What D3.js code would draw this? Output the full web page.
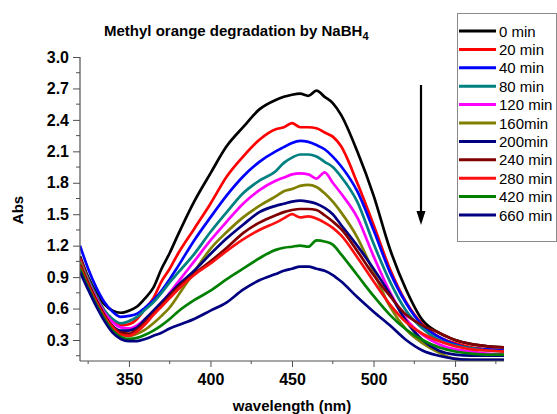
<!DOCTYPE html>
<html>
<head>
<meta charset="utf-8">
<script src="https://cdn.jsdelivr.net/npm/d3@7"></script>
<style>
  html, body { margin: 0; padding: 0; background: #fff; }
  svg { display: block; font-family: Arial, "Liberation Sans", sans-serif; }
</style>
</head>
<body>
<svg id="chart" width="557" height="414"></svg>
<script>
// Wavelength grid (nm)
const wavelengths = [320,325,330,335,340,345,350,355,360,365,370,375,380,390,400,410,420,430,440,445,450,455,460,465,470,475,480,490,500,510,520,530,540,550,560,570,580];

// Series labels and colours
const labels = ["0 min","20 min","40 min","80 min","120 min","160min","200min","240 min","280 min","420 min","660 min"];
const colors = ["#000000","#ff0000","#0000ff","#008080","#ff00ff","#808000","#000080","#800000","#ff1010","#008000","#000080"];

// Absorbance spectra, one array per reaction time
const abs0   = [1.10,0.90,0.75,0.64,0.58,0.56,0.58,0.62,0.70,0.80,0.98,1.13,1.30,1.62,1.89,2.15,2.33,2.50,2.59,2.62,2.64,2.65,2.63,2.68,2.62,2.56,2.45,2.10,1.68,1.17,0.78,0.49,0.37,0.30,0.26,0.24,0.23];
const abs20  = [1.08,0.88,0.72,0.58,0.49,0.44,0.45,0.50,0.60,0.70,0.86,0.98,1.12,1.36,1.60,1.86,2.05,2.21,2.31,2.33,2.37,2.33,2.33,2.32,2.28,2.24,2.15,1.80,1.40,0.98,0.66,0.45,0.33,0.27,0.23,0.21,0.20];
const abs40  = [1.20,0.98,0.80,0.66,0.57,0.52,0.53,0.55,0.61,0.68,0.77,0.88,1.00,1.25,1.47,1.68,1.86,2.00,2.10,2.14,2.18,2.20,2.19,2.16,2.12,2.05,1.96,1.72,1.35,0.95,0.65,0.44,0.33,0.26,0.22,0.21,0.20];
const abs80  = [1.05,0.88,0.72,0.58,0.50,0.46,0.48,0.52,0.59,0.66,0.75,0.85,0.94,1.12,1.33,1.52,1.70,1.82,1.91,1.99,2.04,2.07,2.07,2.05,2.00,1.95,1.86,1.62,1.22,0.86,0.58,0.41,0.30,0.25,0.22,0.20,0.19];
const abs120 = [1.05,0.86,0.70,0.56,0.47,0.42,0.41,0.44,0.50,0.57,0.65,0.75,0.85,1.05,1.25,1.43,1.60,1.73,1.82,1.85,1.88,1.89,1.88,1.84,1.90,1.80,1.70,1.47,1.10,0.76,0.50,0.35,0.26,0.21,0.19,0.17,0.16];
const abs160 = [1.05,0.85,0.68,0.52,0.42,0.36,0.34,0.36,0.40,0.46,0.53,0.61,0.72,0.95,1.17,1.33,1.47,1.58,1.67,1.72,1.74,1.77,1.78,1.76,1.70,1.62,1.52,1.28,0.95,0.62,0.40,0.27,0.18,0.12,0.11,0.11,0.11];
const abs200 = [1.00,0.82,0.66,0.52,0.43,0.39,0.39,0.42,0.50,0.58,0.66,0.74,0.82,0.96,1.12,1.27,1.40,1.52,1.58,1.60,1.62,1.63,1.62,1.60,1.56,1.50,1.40,1.20,0.98,0.74,0.48,0.30,0.20,0.16,0.15,0.15,0.15];
const abs240 = [1.02,0.84,0.68,0.54,0.43,0.37,0.36,0.40,0.47,0.55,0.63,0.72,0.80,0.93,1.05,1.18,1.32,1.42,1.49,1.52,1.54,1.55,1.55,1.54,1.49,1.43,1.36,1.15,0.92,0.72,0.54,0.44,0.37,0.30,0.26,0.24,0.23];
const abs280 = [1.00,0.82,0.66,0.52,0.42,0.35,0.34,0.38,0.45,0.54,0.62,0.70,0.78,0.92,1.03,1.15,1.26,1.35,1.42,1.46,1.50,1.47,1.48,1.46,1.42,1.37,1.30,1.09,0.86,0.64,0.47,0.36,0.29,0.24,0.21,0.20,0.19];
const abs420 = [0.98,0.80,0.64,0.50,0.39,0.33,0.31,0.32,0.35,0.39,0.44,0.50,0.57,0.68,0.77,0.88,0.98,1.08,1.16,1.18,1.19,1.20,1.19,1.25,1.24,1.21,1.12,0.92,0.72,0.54,0.40,0.30,0.23,0.19,0.17,0.16,0.16];
const abs660 = [0.95,0.78,0.62,0.48,0.37,0.31,0.29,0.29,0.31,0.34,0.37,0.41,0.44,0.50,0.58,0.66,0.78,0.87,0.93,0.96,0.98,1.00,1.00,0.98,0.96,0.92,0.86,0.71,0.57,0.44,0.30,0.20,0.15,0.12,0.11,0.11,0.11];

const seriesValues = [abs0, abs20, abs40, abs80, abs120, abs160, abs200, abs240, abs280, abs420, abs660];

// Axis ticks
const xTicks = [350, 400, 450, 500, 550];
const xMinorTicks = [325, 375, 425, 475, 525, 575];
const yTicks = [0.3, 0.6, 0.9, 1.2, 1.5, 1.8, 2.1, 2.4, 2.7, 3.0];
const yMinorTicks = [0.15, 0.45, 0.75, 1.05, 1.35, 1.65, 1.95, 2.25, 2.55, 2.85];

const svg = d3.select("#chart");
const plot = { left: 80, right: 504, top: 57, bottom: 361 };

const x = d3.scaleLinear().domain([320, 580]).range([plot.left, plot.right]);
const y = d3.scaleLinear().domain([0.3, 3.0]).range([340, plot.top]);

svg.append("defs").append("clipPath").attr("id", "plotClip")
  .append("rect")
  .attr("x", plot.left).attr("y", plot.top - 5)
  .attr("width", plot.right - plot.left).attr("height", plot.bottom - plot.top + 5);

// Spectra
const line = d3.line()
  .x((d, i) => x(wavelengths[i]))
  .y(d => y(d))
  .curve(d3.curveMonotoneX);

const curves = svg.append("g").attr("clip-path", "url(#plotClip)");
seriesValues.forEach((vals, k) => {
  curves.append("path")
    .datum(vals)
    .attr("fill", "none")
    .attr("stroke", colors[k])
    .attr("stroke-width", 2.7)
    .attr("stroke-linejoin", "round")
    .attr("d", line);
});

// Axes
const axisColor = "#505050";
const xAxis = svg.append("g").attr("transform", `translate(0,${plot.bottom})`)
  .call(d3.axisBottom(x).tickValues(xTicks).tickSize(6).tickPadding(7).tickFormat(d3.format("d")));
xAxis.append("g").selectAll("line").data(xMinorTicks).join("line")
  .attr("x1", d => x(d)).attr("x2", d => x(d)).attr("y1", 0).attr("y2", 3)
  .attr("stroke", axisColor);

const yAxis = svg.append("g").attr("transform", `translate(${plot.left},0)`)
  .call(d3.axisLeft(y).tickValues(yTicks).tickSize(7).tickPadding(4).tickFormat(d3.format(".1f")));
yAxis.append("g").selectAll("line").data(yMinorTicks).join("line")
  .attr("x1", 0).attr("x2", -4).attr("y1", d => y(d)).attr("y2", d => y(d))
  .attr("stroke", axisColor);

[xAxis, yAxis].forEach(a => {
  a.select(".domain").remove();
  a.selectAll(".tick line").attr("stroke", axisColor);
  a.selectAll(".tick text")
    .attr("fill", "#000")
    .style("font-size", "16px")
    .style("font-weight", "bold")
    .style("font-family", "Arial, 'Liberation Sans', sans-serif");
});
// Axis lines
svg.append("line").attr("x1", plot.left).attr("x2", plot.right)
  .attr("y1", plot.bottom).attr("y2", plot.bottom)
  .attr("stroke", axisColor).attr("stroke-width", 1.2);
svg.append("line").attr("x1", plot.left).attr("x2", plot.left)
  .attr("y1", y(3.0)).attr("y2", plot.bottom)
  .attr("stroke", axisColor).attr("stroke-width", 1.2);

// Axis titles
svg.append("text")
  .attr("x", 292).attr("y", 411)
  .attr("text-anchor", "middle")
  .style("font-size", "15px").style("font-weight", "bold")
  .text("wavelength (nm)");

svg.append("text")
  .attr("transform", "translate(23,210) rotate(-90)")
  .attr("text-anchor", "middle")
  .style("font-size", "15px").style("font-weight", "bold")
  .text("Abs");

// Title with subscript
const title = svg.append("text")
  .attr("x", 104).attr("y", 36)
  .style("font-size", "15px").style("font-weight", "bold");
title.append("tspan").text("Methyl orange degradation by NaBH");
title.append("tspan").attr("dy", 4).style("font-size", "11px").text("4");

// Arrow showing decreasing absorbance with time
svg.append("line")
  .attr("x1", 421).attr("x2", 421).attr("y1", 85).attr("y2", 213)
  .attr("stroke", "#000").attr("stroke-width", 2.2);
svg.append("path")
  .attr("d", d3.line()([[416.5, 211], [425.5, 211], [421, 225]]) + "Z")
  .attr("fill", "#000");

// Legend
const legend = svg.append("g");
legend.append("rect")
  .attr("x", 457.5).attr("y", 13.5).attr("width", 99).attr("height", 228)
  .attr("fill", "#fff").attr("stroke", "#8a8a8a").attr("stroke-width", 1);
labels.forEach((lab, i) => {
  const ly = 31 + i * 18.4;
  legend.append("line")
    .attr("x1", 459).attr("x2", 496).attr("y1", ly).attr("y2", ly)
    .attr("stroke", colors[i]).attr("stroke-width", 3);
  legend.append("text")
    .attr("x", 499).attr("y", ly + 5.5)
    .style("font-size", "15px")
    .text(lab);
});
</script>
</body>
</html>
